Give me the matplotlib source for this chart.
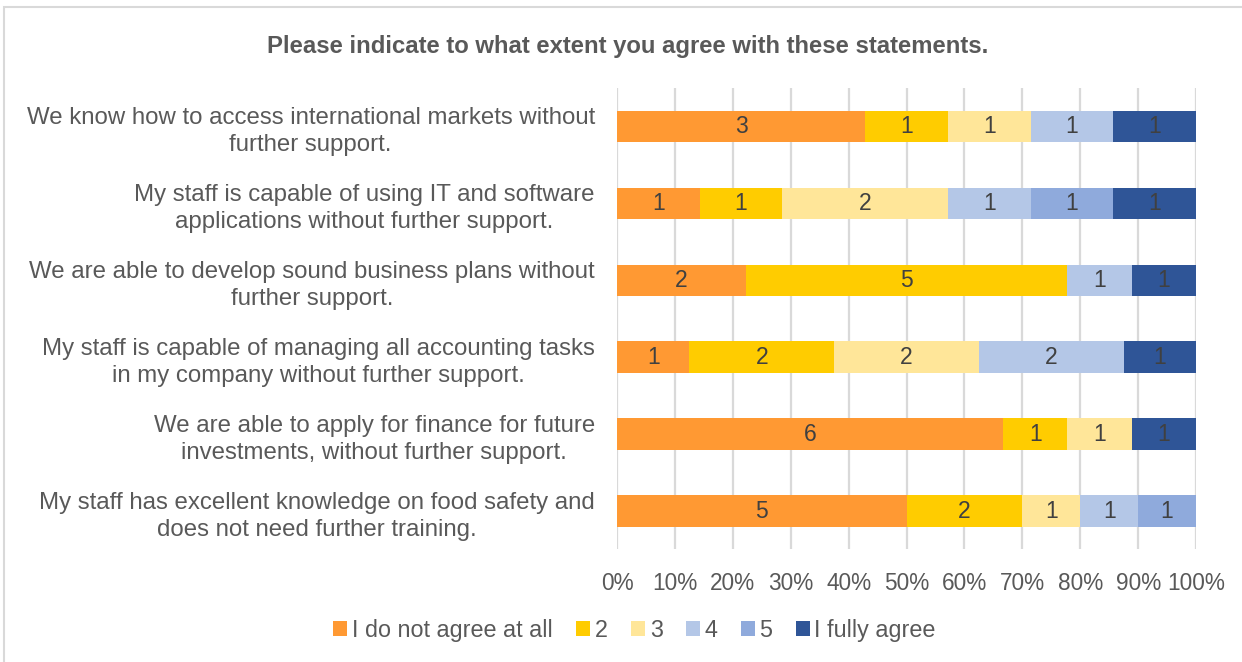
import matplotlib
matplotlib.use('Agg')
import matplotlib.pyplot as plt
from matplotlib.patches import Rectangle
import numpy as np

plt.rcParams['font.family'] = ['Liberation Sans', 'DejaVu Sans']

statements = [
    "We know how to access international markets without\nfurther support.",
    "My staff is capable of using IT and software\napplications without further support.",
    "We are able to develop sound business plans without\nfurther support.",
    "My staff is capable of managing all accounting tasks\nin my company without further support.",
    "We are able to apply for finance for future\ninvestments, without further support.",
    "My staff has excellent knowledge on food safety and\ndoes not need further training.",
]
levels = ["I do not agree at all", "2", "3", "4", "5", "I fully agree"]
# answer counts per statement, one column per level
counts = np.array([
    [3, 1, 1, 1, 0, 1],
    [1, 1, 2, 1, 1, 1],
    [2, 5, 0, 1, 0, 1],
    [1, 2, 2, 2, 0, 1],
    [6, 1, 1, 0, 0, 1],
    [5, 2, 1, 1, 1, 0],
])
colors = ['#FF9933', '#FFCC00', '#FFE699', '#B4C7E7', '#8FAADC', '#2F5597']
txt = '#595959'

share = counts / counts.sum(axis=1, keepdims=True)
ypos = np.arange(len(statements))

fig = plt.figure(figsize=(12.42, 6.62), dpi=100)
ax = fig.add_axes([0.4968, 0.17, 0.4662, 0.697])

left = np.zeros(len(statements))
for j, lev in enumerate(levels):
    bars = ax.barh(ypos, share[:, j], left=left, height=0.41, color=colors[j], label=lev, zorder=3)
    for i, b in enumerate(bars):
        if counts[i, j] > 0:
            ax.text(left[i] + share[i, j] / 2, ypos[i], str(counts[i, j]),
                    ha='center', va='center', fontsize=16.5, color='#404040', zorder=4)
    left += share[:, j]

ax.set_xlim(0, 1)
ax.set_ylim(len(statements) - 0.5, -0.5)
ax.set_xticks(np.linspace(0, 1, 11))
ax.set_xticklabels([f"{int(v)}%" for v in np.linspace(0, 100, 11)], fontsize=16.3, color=txt)
ax.set_yticks(ypos)
ax.set_yticklabels(statements, fontsize=17.3, color=txt, multialignment='center',
                   linespacing=1.3)
ax.tick_params(axis='both', length=0)
ax.tick_params(axis='x', pad=16)
ax.tick_params(axis='y', pad=16)
ax.grid(axis='x', color='#D9D9D9', linewidth=1.6, zorder=0)
for s in ax.spines.values():
    s.set_visible(False)

fig.text(0.505, 0.93, "Please indicate to what extent you agree with these statements.",
         ha='center', va='center', fontsize=17.2, fontweight='bold', color=txt)

fig.legend(loc='center', bbox_to_anchor=(0.511, 0.048), ncol=6, frameon=False,
           fontsize=16.8, handlelength=0.6, handleheight=0.6, handletextpad=0.2,
           columnspacing=1.0, labelcolor=txt)

# chart frame
fig.patches.append(Rectangle((0.003, -0.01), 1.0, 0.999, transform=fig.transFigure,
                             fill=False, edgecolor='#D9D9D9', linewidth=1.5))

fig.savefig('out.png', dpi=100)
